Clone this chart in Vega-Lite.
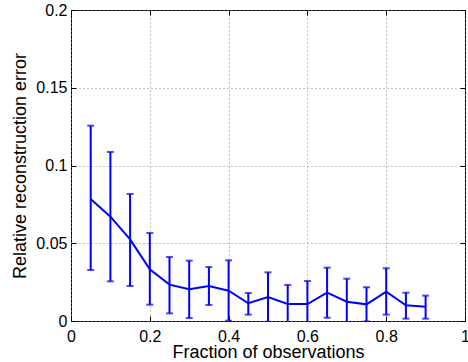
{
  "$schema": "https://vega.github.io/schema/vega-lite/v6.json",
  "width": 394,
  "height": 311,
  "autosize": {"type": "none"},
  "padding": {"left": 71, "top": 10, "right": 3, "bottom": 41},
  "background": "white",
  "config": {
    "view": {"stroke": "black", "strokeWidth": 1},
    "font": "Liberation Sans",
    "axis": {
      "labelFont": "Liberation Sans",
      "labelFontSize": 16,
      "labelColor": "black",
      "titleFont": "Liberation Sans",
      "titleFontSize": 18,
      "titleFontWeight": "normal",
      "titleColor": "black",
      "domain": false,
      "tickColor": "black",
      "tickSize": -5,
      "gridColor": "#888888",
      "gridDash": [1, 3],
      "gridOpacity": 1
    }
  },
  "data": {
    "values": [
      {"x": 0.05, "m": 0.0785, "lo": 0.0328, "hi": 0.1256},
      {"x": 0.10, "m": 0.0671, "lo": 0.0255, "hi": 0.1087},
      {"x": 0.15, "m": 0.0525, "lo": 0.0225, "hi": 0.0817},
      {"x": 0.20, "m": 0.0332, "lo": 0.0105, "hi": 0.0566},
      {"x": 0.25, "m": 0.0234, "lo": 0.0049, "hi": 0.0412},
      {"x": 0.30, "m": 0.0204, "lo": 0.0019, "hi": 0.0388},
      {"x": 0.35, "m": 0.0225, "lo": 0.0103, "hi": 0.0347},
      {"x": 0.40, "m": 0.0195, "lo": 0.0002, "hi": 0.0390},
      {"x": 0.45, "m": 0.0114, "lo": 0.0041, "hi": 0.0180},
      {"x": 0.50, "m": 0.0154, "lo": -0.0005, "hi": 0.0313},
      {"x": 0.55, "m": 0.0109, "lo": -0.0014, "hi": 0.0232},
      {"x": 0.60, "m": 0.0109, "lo": -0.0040, "hi": 0.0257},
      {"x": 0.65, "m": 0.0182, "lo": 0.0021, "hi": 0.0343},
      {"x": 0.70, "m": 0.0124, "lo": -0.0024, "hi": 0.0272},
      {"x": 0.75, "m": 0.0107, "lo": -0.0003, "hi": 0.0217},
      {"x": 0.80, "m": 0.0189, "lo": 0.0041, "hi": 0.0339},
      {"x": 0.85, "m": 0.0101, "lo": 0.0015, "hi": 0.0182},
      {"x": 0.90, "m": 0.0092, "lo": 0.0015, "hi": 0.0163}
    ]
  },
  "resolve": {"axis": {"x": "independent", "y": "independent"}},
  "layer": [
    {
      "mark": {"type": "rule", "color": "#0000ff", "strokeWidth": 2, "clip": true},
      "encoding": {
        "x": {"field": "x", "type": "quantitative", "scale": {"domain": [0, 1], "nice": false},
          "axis": {"values": [0, 0.2, 0.4, 0.6, 0.8, 1], "grid": true, "title": "Fraction of observations", "labelPadding": 12.5, "titleBaseline": "alphabetic", "titleY": 36, "format": "~g", "labelFlush": false}},
        "y": {"field": "lo", "type": "quantitative", "scale": {"domain": [0, 0.2], "nice": false},
          "axis": {"values": [0, 0.05, 0.1, 0.15, 0.2], "grid": true, "title": "Relative reconstruction error", "labelPadding": 9, "titleBaseline": "alphabetic", "titleX": -46, "titleY": 155.5, "format": "~g", "labelFlush": false}},
        "y2": {"field": "hi"}
      }
    },
    {
      "mark": {"type": "tick", "orient": "horizontal", "color": "#0000ff", "thickness": 2, "size": 7, "clip": true},
      "encoding": {
        "x": {"field": "x", "type": "quantitative", "axis": {"orient": "top", "labels": false, "grid": false, "title": null, "values": [0, 0.2, 0.4, 0.6, 0.8, 1]}},
        "y": {"field": "hi", "type": "quantitative", "axis": {"orient": "right", "labels": false, "grid": false, "title": null, "values": [0, 0.05, 0.1, 0.15, 0.2]}}
      }
    },
    {
      "mark": {"type": "tick", "orient": "horizontal", "color": "#0000ff", "thickness": 2, "size": 7, "clip": true},
      "encoding": {
        "x": {"field": "x", "type": "quantitative", "axis": null},
        "y": {"field": "lo", "type": "quantitative", "axis": null}
      }
    },
    {
      "mark": {"type": "line", "color": "#0000ff", "strokeWidth": 2},
      "encoding": {
        "x": {"field": "x", "type": "quantitative", "axis": null},
        "y": {"field": "m", "type": "quantitative", "axis": null}
      }
    }
  ]
}
